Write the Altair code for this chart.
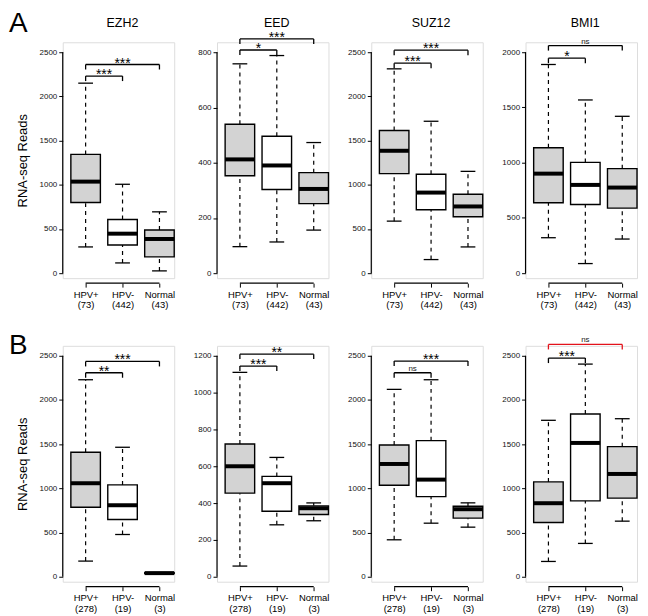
import json
import altair as alt
import pandas as pd

# ---------------- data ----------------
genes = ["EZH2", "EED", "SUZ12", "BMI1"]
groups = ["HPV+", "HPV-", "Normal"]
counts_A = ["(73)", "(442)", "(43)"]
counts_B = ["(278)", "(19)", "(3)"]
row_letters = ["A", "B"]
box_fills = ["#d3d3d3", "#ffffff", "#d3d3d3"]

# Row A (order of each list: HPV+, HPV-, Normal)
A_lower = {"EZH2": [297, 116, 26], "EED": [96, 113, 156], "SUZ12": [589, 154, 297], "BMI1": [321, 87, 309]}
A_q1 = {"EZH2": [800, 319, 184], "EED": [353, 303, 252], "SUZ12": [1126, 717, 638], "BMI1": [637, 622, 589]}
A_median = {"EZH2": [1036, 447, 387], "EED": [412, 390, 305], "SUZ12": [1385, 912, 755], "BMI1": [901, 799, 775]}
A_q3 = {"EZH2": [1344, 608, 488], "EED": [539, 496, 364], "SUZ12": [1614, 1119, 893], "BMI1": [1135, 1003, 946]}
A_upper = {"EZH2": [2150, 1006, 694], "EED": [758, 788, 473], "SUZ12": [2312, 1719, 1152], "BMI1": [1889, 1568, 1420]}

# Row B
B_lower = {"EZH2": [177, 478, 35], "EED": [58, 282, 304], "SUZ12": [418, 606, 561], "BMI1": [173, 377, 629]}
B_q1 = {"EZH2": [787, 648, 37], "EED": [454, 356, 338], "SUZ12": [1035, 907, 663], "BMI1": [614, 858, 889]}
B_median = {"EZH2": [1058, 809, 41], "EED": [600, 508, 372], "SUZ12": [1276, 1099, 764], "BMI1": [832, 1514, 1163]}
B_q3 = {"EZH2": [1408, 1039, 45], "EED": [721, 545, 385], "SUZ12": [1491, 1540, 798], "BMI1": [1073, 1841, 1472]}
B_upper = {"EZH2": [2229, 1465, 47], "EED": [1110, 648, 401], "SUZ12": [2120, 2229, 836], "BMI1": [1770, 2406, 1788]}

# axis ticks
A_tick_max = [2500, 800, 2500, 2000]
A_tick_step = [500, 200, 500, 500]
B_tick_max = [2500, 1200, 2500, 2500]
B_tick_step = [500, 200, 500, 500]

# significance brackets: inner = HPV+ vs HPV-, outer = HPV+ vs Normal
A_inner_level = [2230, 808, 2376, 1946]
A_inner_label = ["***", "*", "***", "*"]
A_outer_level = [2361, 848, 2523, 2060]
A_outer_label = ["***", "***", "***", "ns"]
A_outer_color = ["black", "black", "black", "black"]
B_inner_level = [2308, 1144, 2308, 2474]
B_inner_label = ["**", "***", "ns", "***"]
B_outer_level = [2436, 1209, 2440, 2628]
B_outer_label = ["***", "**", "***", "ns"]
B_outer_color = ["black", "black", "black", "#e3121b"]

rows = [
    dict(lower=A_lower, q1=A_q1, median=A_median, q3=A_q3, upper=A_upper,
         tmax=A_tick_max, tstep=A_tick_step, counts=counts_A,
         il=A_inner_level, ilab=A_inner_label, ol=A_outer_level,
         olab=A_outer_label, ocol=A_outer_color),
    dict(lower=B_lower, q1=B_q1, median=B_median, q3=B_q3, upper=B_upper,
         tmax=B_tick_max, tstep=B_tick_step, counts=counts_B,
         il=B_inner_level, ilab=B_inner_label, ol=B_outer_level,
         olab=B_outer_label, ocol=B_outer_color),
]

# ---------------- layout constants ----------------
FONT = "Liberation Sans"
PX_T = 222.0      # pixels from 0 to the top tick
PAD_BOT = 5.0
PAD_TOP = 10.0
H = PX_T + PAD_BOT + PAD_TOP
XMIN, XMAX = 0.38, 3.40
W = round((XMAX - XMIN) * 37)
HALF = 0.4
CAP = 0.2
LETTER_Y = [-32, -14]


def panel(r, gi):
    R = rows[r]
    g = genes[gi]
    T = R["tmax"][gi]
    step = R["tstep"][gi]
    ppu = PX_T / T
    lo = -PAD_BOT / ppu
    hi = T + PAD_TOP / ppu
    xs = alt.Scale(domain=[XMIN, XMAX], nice=False, zero=False)
    ys = alt.Scale(domain=[lo, hi], nice=False, zero=False)

    labs = [[groups[i], R["counts"][i]] for i in range(3)]
    expr = (f"datum.value == 1 ? {json.dumps(labs[0])} : "
            f"datum.value == 2 ? {json.dumps(labs[1])} : {json.dumps(labs[2])}")
    xax = alt.Axis(values=[1, 2, 3], labelExpr=expr, domain=False, tickSize=4,
                   tickColor="black", tickWidth=1, labelFontSize=9.5,
                   labelColor="black", labelPadding=2, labelLineHeight=10.5,
                   labelOverlap=False, labelFlush=False, offset=5, grid=False,
                   title=None, labelFont=FONT)
    yax_kw = dict(values=list(range(0, T + 1, step)), format="d", domain=False,
                  tickSize=4, tickColor="black", tickWidth=1, labelFontSize=8,
                  labelColor="#111111", labelPadding=2, labelOverlap=False,
                  labelFlush=False, grid=False, labelFont=FONT)
    if gi == 0:
        yax = alt.Axis(title="RNA-seq Reads", titleFontSize=13,
                       titleFontWeight="normal", titleColor="black",
                       titlePadding=10, titleFont=FONT, **yax_kw)
    else:
        yax = alt.Axis(title=None, **yax_kw)

    X = lambda f: alt.X(f, scale=xs, axis=xax)
    Y = lambda f: alt.Y(f, scale=ys, axis=yax)

    box_df = pd.DataFrame({
        "x": [1, 2, 3],
        "xlo": [i + 1 - HALF for i in range(3)],
        "xhi": [i + 1 + HALF for i in range(3)],
        "clo": [i + 1 - CAP for i in range(3)],
        "chi": [i + 1 + CAP for i in range(3)],
        "lower": R["lower"][g], "q1": R["q1"][g], "median": R["median"][g],
        "q3": R["q3"][g], "upper": R["upper"][g], "fill": box_fills,
    })
    base = alt.Chart(box_df)
    wh_up = base.mark_rule(color="black", strokeWidth=1.2, strokeDash=[4, 4]).encode(
        x=X("x:Q"), y=Y("q3:Q"), y2="upper:Q")
    wh_lo = base.mark_rule(color="black", strokeWidth=1.2, strokeDash=[4, 4]).encode(
        x=X("x:Q"), y=Y("lower:Q"), y2="q1:Q")
    cap_up = base.mark_rule(color="black", strokeWidth=1.3).encode(
        x=X("clo:Q"), x2="chi:Q", y=Y("upper:Q"))
    cap_lo = base.mark_rule(color="black", strokeWidth=1.3).encode(
        x=X("clo:Q"), x2="chi:Q", y=Y("lower:Q"))
    box = base.mark_rect(stroke="black", strokeWidth=1.4).encode(
        x=X("xlo:Q"), x2="xhi:Q", y=Y("q1:Q"), y2="q3:Q",
        fill=alt.Fill("fill:N", scale=None))
    med = base.mark_rule(color="black", strokeWidth=4, strokeCap="butt").encode(
        x=X("xlo:Q"), x2="xhi:Q", y=Y("median:Q"))

    leg = 5.0 / ppu
    br_df = pd.DataFrame({
        "x1": [1, 1], "x2": [2, 3],
        "level": [R["il"][gi], R["ol"][gi]],
        "label": [R["ilab"][gi], R["olab"][gi]],
        "col": ["black", R["ocol"][gi]],
    })
    br_df["legend"] = br_df["level"] - leg
    br_df["xm"] = (br_df["x1"] + br_df["x2"]) / 2
    br_df["ty"] = [lv - 3.0 / ppu if lb != "ns" else lv + 2.0 / ppu
                   for lv, lb in zip(br_df["level"], br_df["label"])]
    bb = alt.Chart(br_df)
    br_h = bb.mark_rule(strokeWidth=1.3).encode(
        x=X("x1:Q"), x2="x2:Q", y=Y("level:Q"), color=alt.Color("col:N", scale=None))
    br_l = bb.mark_rule(strokeWidth=1.3).encode(
        x=X("x1:Q"), y=Y("level:Q"), y2="legend:Q", color=alt.Color("col:N", scale=None))
    br_r = bb.mark_rule(strokeWidth=1.3).encode(
        x=X("x2:Q"), y=Y("level:Q"), y2="legend:Q", color=alt.Color("col:N", scale=None))
    stars = alt.Chart(br_df[br_df["label"] != "ns"]).mark_text(
        fontSize=14, baseline="alphabetic", align="center", color="black", font=FONT).encode(
        x=X("xm:Q"), y=Y("ty:Q"), text="label:N")
    ns = alt.Chart(br_df[br_df["label"] == "ns"]).mark_text(
        fontSize=8, baseline="alphabetic", align="center", color="#222222", font=FONT).encode(
        x=X("xm:Q"), y=Y("ty:Q"), text="label:N")

    yline = alt.Chart(pd.DataFrame({"y0": [0], "y1": [T]})).mark_rule(
        color="black", strokeWidth=1.2).encode(x=alt.value(0), y=Y("y0:Q"), y2="y1:Q")
    xline = alt.Chart(pd.DataFrame({"a": [1], "b": [3]})).mark_rule(
        color="black", strokeWidth=1.2).encode(x=X("a:Q"), x2="b:Q", y=alt.value(H + 5))

    layers = [wh_up, wh_lo, cap_up, cap_lo, box, med, br_h, br_l, br_r, yline, xline]
    if len(br_df[br_df["label"] != "ns"]):
        layers.append(stars)
    if len(br_df[br_df["label"] == "ns"]):
        layers.append(ns)
    if gi == 0:
        letter = alt.Chart(pd.DataFrame({"t": [row_letters[r]]})).mark_text(
            fontSize=28, align="left", baseline="top", color="black", font=FONT).encode(
            text="t:N", x=alt.value(-54), y=alt.value(LETTER_Y[r]))
        layers.append(letter)
    if r == 0:
        ttl = alt.Chart(pd.DataFrame({"t": [g]})).mark_text(
            fontSize=12.5, align="center", baseline="alphabetic", color="black",
            font=FONT).encode(text="t:N", x=alt.value(W * 0.5 + 4), y=alt.value(-15))
        layers.append(ttl)

    return alt.layer(*layers).properties(width=W, height=H)


panels = [panel(r, gi) for r in range(2) for gi in range(4)]
chart = alt.concat(*panels, columns=4, spacing={"row": 68, "column": 155 - W},
                   bounds="flush").properties(
    padding={"left": 0, "top": 0, "right": 0, "bottom": 0},
    background="white",
).configure_view(strokeWidth=0).configure(font=FONT)

chart.save("out.html", embed_options={"renderer": "svg", "actions": False})
